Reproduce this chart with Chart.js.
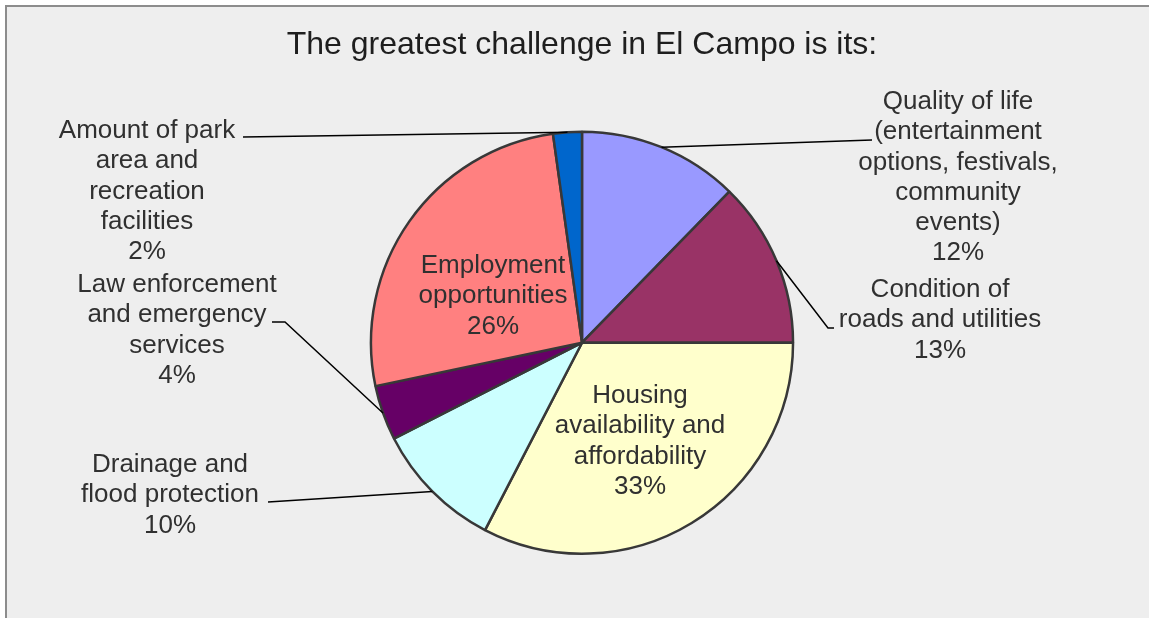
<!DOCTYPE html>
<html>
<head>
<meta charset="utf-8">
<script src="https://cdn.jsdelivr.net/npm/chart.js@4.4.1/dist/chart.umd.min.js"></script>
<style>
  html, body { margin: 0; padding: 0; background: #ffffff; }
  #frame {
    position: absolute; left: 5px; top: 5px; width: 1160px; height: 630px;
    background: #eeeeee; border-left: 2px solid #8c8c8c; border-top: 2px solid #8c8c8c;
  }
  #wrap { position: absolute; left: 0; top: 0; width: 1149px; height: 618px; }
</style>
</head>
<body>
<div id="frame"></div>
<div id="wrap"><canvas id="pieChart" width="1149" height="618"></canvas></div>
<script>
// categories, clockwise from 12 o'clock
const categories = [
  "Quality of life (entertainment options, festivals, community events)",
  "Condition of roads and utilities",
  "Housing availability and affordability",
  "Drainage and flood protection",
  "Law enforcement and emergency services",
  "Employment opportunities",
  "Amount of park area and recreation facilities"
]
// share of responses (%)
const shares = [12.3, 12.7, 32.6, 9.9, 4.2, 26.1, 2.2]
// label text as printed in the reference
const labelLines = [
  ["Quality of life", "(entertainment", "options, festivals,", "community", "events)"],
  ["Condition of", "roads and utilities"],
  ["Housing", "availability and", "affordability"],
  ["Drainage and", "flood protection"],
  ["Law enforcement", "and emergency", "services"],
  ["Employment", "opportunities"],
  ["Amount of park", "area and", "recreation", "facilities"]
]
const sliceColors = ["#9999ff", "#993366", "#ffffcc", "#ccffff", "#660066", "#ff8080", "#0066cc"]

// where each label sits (centre x, centre y of first line) and the bends of its leader line
const labelLayout = [
  { x: 958, y: 102, leader: [[872, 140]] },
  { x: 940, y: 290, leader: [[828, 328], [834, 328]] },
  { x: 640, y: 396, leader: null },
  { x: 170, y: 465, leader: [[268, 502]] },
  { x: 177, y: 285, leader: [[285, 322], [272, 322]] },
  { x: 493, y: 266, leader: null },
  { x: 147, y: 131, leader: [[243, 137]] }
]

const lineGap = 30.2

const sliceLabels = {
  id: "sliceLabels",
  afterDatasetsDraw(chart) {
    const g = chart.ctx
    const arcs = chart.getDatasetMeta(0).data
    g.save()
    arcs.forEach((arc, i) => {
      const p = arc.getProps(["x", "y", "startAngle", "endAngle", "outerRadius"], true)
      const mid = (p.startAngle + p.endAngle) / 2
      const lay = labelLayout[i]
      if (lay.leader) {
        g.beginPath()
        g.strokeStyle = "#000000"
        g.lineWidth = 1.5
        g.moveTo(p.x + Math.cos(mid) * p.outerRadius, p.y + Math.sin(mid) * p.outerRadius)
        lay.leader.forEach(pt => g.lineTo(pt[0], pt[1]))
        g.stroke()
      }
      const lines = labelLines[i].concat([Math.round(shares[i]) + "%"])
      g.fillStyle = "#303030"
      g.font = "26px 'Liberation Sans', Arial, sans-serif"
      g.textAlign = "center"
      g.textBaseline = "middle"
      lines.forEach((t, k) => g.fillText(t, lay.x, lay.y + k * lineGap))
    })
    g.restore()
  }
}

new Chart(document.getElementById("pieChart"), {
  type: "pie",
  data: {
    labels: categories,
    datasets: [{
      data: shares,
      backgroundColor: sliceColors,
      borderColor: "#383838",
      borderWidth: 2.5,
      borderAlign: "center"
    }]
  },
  options: {
    responsive: false,
    animation: false,
    layout: { padding: { top: 0, bottom: 63, left: 15, right: 0 } },
    plugins: {
      legend: { display: false },
      tooltip: { enabled: false },
      title: {
        display: true,
        text: "The greatest challenge in El Campo is its:",
        color: "#1e1e1e",
        font: { family: "'Liberation Sans', Arial, sans-serif", size: 32, weight: "normal" },
        padding: { top: 26, bottom: 66 }
      }
    }
  },
  plugins: [sliceLabels]
})
</script>
</body>
</html>
